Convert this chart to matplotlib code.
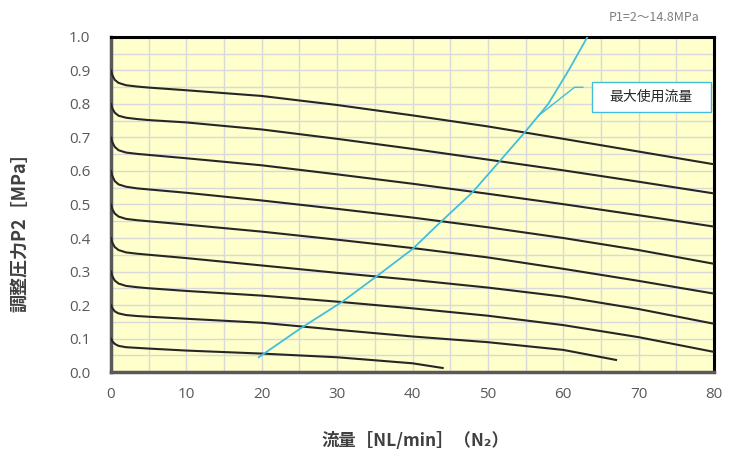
import numpy as np
import matplotlib
matplotlib.use("Agg")
import matplotlib.pyplot as plt
from matplotlib.patches import Rectangle

plt.rcParams['font.family'] = ['Noto Sans CJK JP', 'DejaVu Sans']

# flow [NL/min] sample points shared by the pressure curves
knee_x = [0, 0.2, 0.5, 1, 2, 3.5, 5]
body_x = [10, 20, 30, 40, 50, 60, 70, 80]

# P2 curves, one per set pressure (top to bottom)
p2_curves = [
    [0.90, 0.885, 0.872, 0.863, 0.856, 0.852, 0.849, 0.841, 0.824, 0.797, 0.766, 0.733, 0.696, 0.658, 0.620],
    [0.80, 0.786, 0.774, 0.765, 0.759, 0.755, 0.752, 0.745, 0.724, 0.696, 0.666, 0.634, 0.602, 0.568, 0.533],
    [0.70, 0.685, 0.672, 0.662, 0.655, 0.651, 0.648, 0.638, 0.617, 0.590, 0.562, 0.532, 0.501, 0.468, 0.434],
    [0.60, 0.584, 0.570, 0.560, 0.553, 0.548, 0.545, 0.535, 0.512, 0.487, 0.461, 0.432, 0.400, 0.364, 0.323],
    [0.50, 0.485, 0.473, 0.464, 0.457, 0.453, 0.450, 0.440, 0.419, 0.395, 0.370, 0.342, 0.308, 0.272, 0.234],
    [0.40, 0.385, 0.373, 0.364, 0.357, 0.353, 0.350, 0.340, 0.318, 0.296, 0.275, 0.252, 0.225, 0.188, 0.144],
    [0.30, 0.285, 0.273, 0.264, 0.257, 0.253, 0.250, 0.242, 0.228, 0.210, 0.190, 0.168, 0.140, 0.104, 0.060],
]
# shorter curves (end before 80)
c8_x = knee_x + [10, 20, 30, 40, 50, 60, 67]
c8_y = [0.20, 0.190, 0.181, 0.175, 0.170, 0.167, 0.165, 0.159, 0.147, 0.126, 0.106, 0.089, 0.066, 0.036]
c9_x = knee_x + [10, 20, 30, 40, 44]
c9_y = [0.10, 0.091, 0.084, 0.078, 0.074, 0.072, 0.070, 0.064, 0.055, 0.044, 0.026, 0.012]

# max usable flow line
max_x = [19.6, 25.2, 30.7, 35.2, 40.0, 43.6, 47.9, 51.4, 54.8, 58.0, 60.7, 63.2]
max_y = [0.044, 0.131, 0.210, 0.285, 0.367, 0.445, 0.535, 0.625, 0.713, 0.800, 0.900, 1.000]

fig = plt.figure(figsize=(7.38, 4.55), dpi=100)
ax = fig.add_axes([0.1504, 0.1824, 0.8171, 0.7363])
ax.set_facecolor('#FFFFCC')

xs = knee_x + body_x
for ys in p2_curves:
    ax.plot(xs, ys, color='#262626', lw=1.5, zorder=3)
ax.plot(c8_x, c8_y, color='#262626', lw=1.5, zorder=3)
ax.plot(c9_x, c9_y, color='#262626', lw=1.5, zorder=3)

ax.plot(max_x, max_y, color='#41BEDC', lw=1.3, zorder=4)

ax.set_xlim(0, 80)
ax.set_ylim(0, 1.0)
ax.set_xticks(np.arange(0, 81, 10))
ax.set_xticks(np.arange(0, 81, 5), minor=True)
ax.set_yticks(np.arange(0, 1.01, 0.1))
ax.set_yticks(np.arange(0, 1.01, 0.05), minor=True)
ax.set_yticklabels(['%.1f' % v for v in np.arange(0, 1.01, 0.1)])
ax.grid(True, which='both', color='#D9D9D9', lw=1, zorder=1)
ax.set_axisbelow(True)
ax.tick_params(which='both', length=0)
ax.tick_params(axis='x', pad=11, labelsize=11, labelcolor='#595959')
ax.tick_params(axis='y', pad=15, labelsize=11, labelcolor='#595959')
for lab in ax.get_xticklabels() + ax.get_yticklabels():
    lab.set_family(['Open Sans', 'DejaVu Sans'])

for s in ['left', 'bottom']:
    ax.spines[s].set_color('#595959')
    ax.spines[s].set_linewidth(2.5)
for s in ['top', 'right']:
    ax.spines[s].set_color('black')
    ax.spines[s].set_linewidth(2.2)

ax.set_xlabel('流量［NL/min］（N₂）', fontsize=12.5, fontweight='bold',
              color='#404040')
ax.xaxis.set_label_coords(0.505, -0.18)
ax.set_ylabel('調整圧力P2［MPa］', fontsize=13, fontweight='bold',
              color='#404040')
ax.yaxis.set_label_coords(-0.135, 0.43)

fig.text(0.948, 0.962, 'P1=2～14.8MPa', ha='right', va='center',
         fontsize=9, color='#7F7F7F')

# callout
ax.plot([56.6, 61.5, 62.6], [0.763, 0.85, 0.85], color='#41BEDC', lw=1, zorder=4)
ax.add_patch(Rectangle((63.8, 0.775), 15.8, 0.09, facecolor='white',
                       edgecolor='#41BEDC', lw=1, zorder=5))
ax.text(71.7, 0.82, '最大使用流量', ha='center', va='center',
        fontsize=10, color='#262626', zorder=6)

fig.savefig('out.png', dpi=100)
